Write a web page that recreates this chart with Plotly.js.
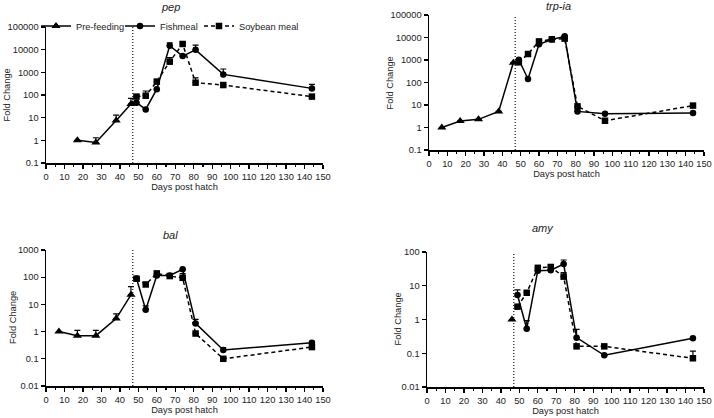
<!DOCTYPE html>
<html>
<head>
<meta charset="utf-8">
<script src="https://cdn.plot.ly/plotly-3.0.1.min.js"></script>
<style>html,body{margin:0;padding:0;background:#fff}#chart{width:714px;height:418px}</style>
</head>
<body>
<div id="chart"></div>
<script>
// ---- data ----
const daysFed = [49, 54, 60, 67, 74, 81, 96, 144];
const weaningDay = 47;

const pepDaysPre = [17, 27, 38, 46];
const pepPre = [1.0, 0.8, 7.5, 40];
const pepPreErr = [0, 0.5, 5.5, 31];
const pepFish = [46, 23, 180, 15000, 5200, 9800, 810, 196];
const pepFishErr = [0, 0, 0, 5000, 0, 6200, 590, 100];
const pepSoy = [85, 93, 390, 2950, 17800, 350, 275, 85];
const pepSoyErr = [15, 57, 0, 1550, 4200, 220, 0, 0];

const trpDaysPre = [7, 17, 27, 38, 46];
const trpPre = [1.0, 1.95, 2.3, 5.2, 760];
const trpPreErr = [0, 0, 0, 0, 0];
const trpFish = [1030, 143, 5000, 8100, 11300, 5.2, 4.1, 4.4];
const trpFishErr = [0, 0, 0, 0, 0, 0, 0, 0];
const trpSoy = [790, 1850, 6700, 8300, 8900, 8.7, 2.0, 9.4];
const trpSoyErr = [0, 0, 0, 0, 0, 0, 0, 0];

const balDaysPre = [7, 17, 27, 38, 46];
const balPre = [1.0, 0.71, 0.71, 3.0, 22.5];
const balPreErr = [0, 0.39, 0.39, 1.5, 22.5];
const balFish = [90, 6.4, 115, 115, 195, 2.0, 0.21, 0.39];
const balFishErr = [0, 2.5, 0, 0, 0, 0.8, 0.05, 0.05];
const balSoy = [88, 54, 138, 110, 95, 0.85, 0.1, 0.27];
const balSoyErr = [0, 0, 0, 0, 40, 0, 0, 0];

const amyDaysPre = [46];
const amyPre = [1.0];
const amyPreErr = [0];
const amyFish = [5.3, 0.53, 28, 29, 44, 0.29, 0.087, 0.28];
const amyFishErr = [2.2, 0.4, 0, 0, 14, 0.22, 0, 0];
const amySoy = [2.4, 6.2, 34, 36, 18.6, 0.16, 0.16, 0.071];
const amySoyErr = [0, 0, 0, 0, 6, 0, 0, 0.045];

const titles = ['pep', 'trp-ia', 'bal', 'amy'];
const seriesNames = ['Pre-feeding', 'Fishmeal', 'Soybean meal'];
const xTitle = 'Days post hatch';
const yTitle = 'Fold Change';
const logTickVals = [0.01, 0.1, 1, 10, 100, 1000, 10000, 100000];
const logTickText = ['0.01', '0.1', '1', '10', '100', '1000', '10000', '100000'];

// ---- build ----
const W = 714, H = 418;
const FONT = 'Liberation Sans, Arial, sans-serif';
const TXT = '#222';
const FS = 9.3;
const panels = [
  {title: titles[0], dPre: pepDaysPre, pre: pepPre, preErr: pepPreErr, fish: pepFish, fishErr: pepFishErr, soy: pepSoy, soyErr: pepSoyErr,
   px: [46, 323], py: [27, 163], yr: [-1, 5], connect: true, legend: true, tx: 170, ty: 7, ytx: 6.5},
  {title: titles[1], dPre: trpDaysPre, pre: trpPre, preErr: trpPreErr, fish: trpFish, fishErr: trpFishErr, soy: trpSoy, soyErr: trpSoyErr,
   px: [429, 704], py: [15, 150], yr: [-1, 5], connect: true, legend: false, tx: 558, ty: 6, ytx: 389},
  {title: titles[2], dPre: balDaysPre, pre: balPre, preErr: balPreErr, fish: balFish, fishErr: balFishErr, soy: balSoy, soyErr: balSoyErr,
   px: [46, 323], py: [250, 386], yr: [-2, 3], connect: false, legend: false, tx: 170, ty: 235, ytx: 13},
  {title: titles[3], dPre: amyDaysPre, pre: amyPre, preErr: amyPreErr, fish: amyFish, fishErr: amyFishErr, soy: amySoy, soyErr: amySoyErr,
   px: [427, 704], py: [252, 387], yr: [-2, 2], connect: false, legend: false, tx: 543, ty: 228, ytx: 397}
];

const legendBase = {orientation: 'h', y: 1 - 26 / H, xanchor: 'left', yanchor: 'middle',
  font: {family: FONT, size: FS, color: TXT}, bgcolor: 'rgba(0,0,0,0)', itemwidth: 30};
const traces = [];
const layout = {
  width: W, height: H, margin: {l: 0, r: 0, t: 0, b: 0},
  paper_bgcolor: '#fff', plot_bgcolor: '#fff',
  font: {family: FONT, size: FS, color: TXT},
  showlegend: true,
  legend: Object.assign({}, legendBase, {x: 36 / W}),
  legend2: Object.assign({}, legendBase, {x: 120 / W}),
  legend3: Object.assign({}, legendBase, {x: 199 / W}),
  annotations: [], shapes: []
};

function errObj(arr) {
  return {type: 'data', symmetric: false, array: arr, arrayminus: arr.map(() => 0),
          color: '#000', thickness: 1.2, width: 3};
}

const DASH = '4px,3px';
panels.forEach((p, i) => {
  const n = i === 0 ? '' : String(i + 1);
  const xa = 'x' + n, ya = 'y' + n;
  const lineBase = {color: '#000', width: 1.5};
  traces.push({x: p.dPre, y: p.pre, xaxis: xa, yaxis: ya, type: 'scatter', mode: 'lines+markers',
    name: seriesNames[0], legend: 'legend', showlegend: p.legend,
    line: lineBase, marker: {symbol: 'triangle-up', size: 8, color: '#000'}, error_y: errObj(p.preErr)});
  if (p.connect) {
    const lx = p.dPre[p.dPre.length - 1], ly = p.pre[p.pre.length - 1];
    traces.push({x: [lx, daysFed[0]], y: [ly, p.fish[0]], xaxis: xa, yaxis: ya, mode: 'lines',
      showlegend: false, hoverinfo: 'skip', line: lineBase});
    traces.push({x: [lx, daysFed[0]], y: [ly, p.soy[0]], xaxis: xa, yaxis: ya, mode: 'lines',
      showlegend: false, hoverinfo: 'skip', line: {color: '#000', width: 1.5, dash: DASH}});
  }
  traces.push({x: daysFed, y: p.fish, xaxis: xa, yaxis: ya, type: 'scatter', mode: 'lines+markers',
    name: seriesNames[1], legend: 'legend2', showlegend: p.legend,
    line: lineBase, marker: {symbol: 'circle', size: 6.5, color: '#000'}, error_y: errObj(p.fishErr)});
  traces.push({x: daysFed, y: p.soy, xaxis: xa, yaxis: ya, type: 'scatter', mode: 'lines+markers',
    name: seriesNames[2], legend: 'legend3', showlegend: p.legend,
    line: {color: '#000', width: 1.5, dash: DASH}, marker: {symbol: 'square', size: 6.5, color: '#000'}, error_y: errObj(p.soyErr)});

  const tv = logTickVals.filter(v => Math.log10(v) >= p.yr[0] - 1e-9 && Math.log10(v) <= p.yr[1] + 1e-9);
  const tt = tv.map(v => logTickText[logTickVals.indexOf(v)]);
  layout['xaxis' + n] = {
    domain: [p.px[0] / W, p.px[1] / W], anchor: ya, range: [0, 150],
    tickmode: 'linear', tick0: 0, dtick: 10, ticks: 'outside', ticklen: 4, tickwidth: 1.3, tickcolor: '#000',
    minor: {tickmode: 'linear', tick0: 0, dtick: 5, ticks: 'outside', ticklen: 2.5, tickwidth: 1.1, tickcolor: '#000', showgrid: false},
    showline: true, linecolor: '#000', linewidth: 1.5, showgrid: false, zeroline: false,
    tickfont: {family: FONT, size: FS, color: TXT},
    title: {text: xTitle, font: {family: FONT, size: FS, color: TXT}, standoff: 1}
  };
  layout['yaxis' + n] = {
    domain: [1 - p.py[1] / H, 1 - p.py[0] / H], anchor: xa, type: 'log', range: p.yr,
    tickmode: 'array', tickvals: tv, ticktext: tt, ticks: 'outside', ticklen: 4, tickwidth: 1.3, tickcolor: '#000',
    showline: true, linecolor: '#000', linewidth: 1.5, showgrid: false, zeroline: false,
    tickfont: {family: FONT, size: FS, color: TXT}
  };
  layout.shapes.push({type: 'line', xref: xa, yref: ya + ' domain', x0: weaningDay, x1: weaningDay, y0: 0, y1: 1,
    line: {color: '#000', width: 1.1, dash: '1px,2px'}});
  layout.annotations.push({text: '<i>' + p.title + '</i>', xref: 'paper', yref: 'paper', x: p.tx / W, y: 1 - p.ty / H,
    xanchor: 'center', yanchor: 'middle', showarrow: false, font: {family: FONT, size: 11, color: TXT}});
  layout.annotations.push({text: yTitle, xref: 'paper', yref: 'paper', x: p.ytx / W, y: 1 - (p.py[0] + p.py[1]) / 2 / H,
    xanchor: 'center', yanchor: 'middle', textangle: -90, showarrow: false, font: {family: FONT, size: FS, color: TXT}});
});

Plotly.newPlot('chart', traces, layout, {staticPlot: true, displayModeBar: false});
</script>
</body>
</html>
